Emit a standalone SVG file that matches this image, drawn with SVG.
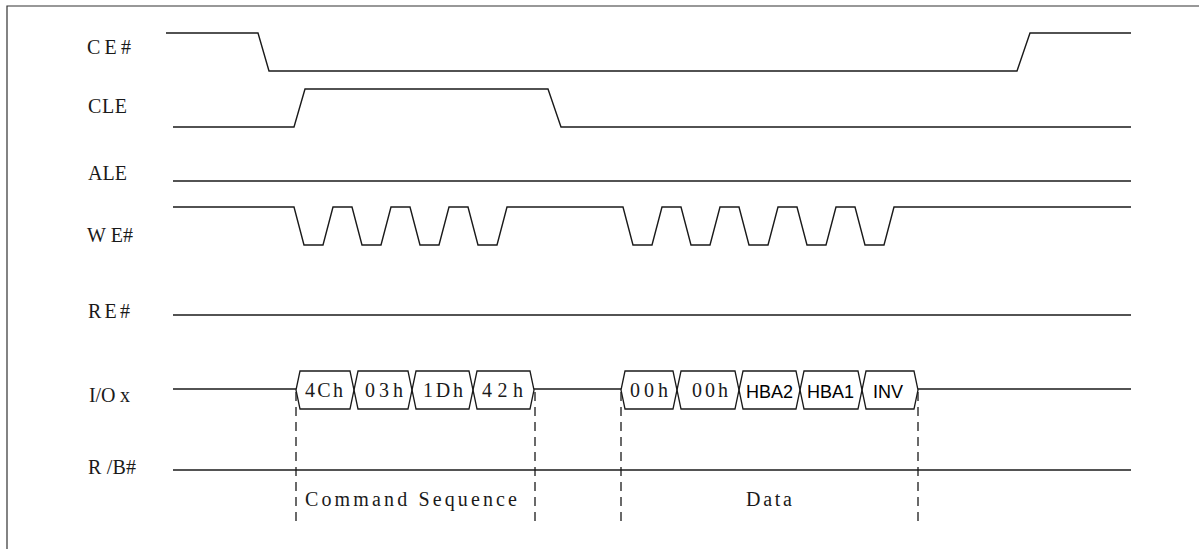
<svg xmlns="http://www.w3.org/2000/svg" width="1199" height="549" viewBox="0 0 1199 549">
<style>
.sig{fill:none;stroke:#1a1a1a;stroke-width:1.4;stroke-linejoin:miter}
.hex{fill:none;stroke:#1a1a1a;stroke-width:1.3}
.dash{fill:none;stroke:#1a1a1a;stroke-width:1.3;stroke-dasharray:9 6}
.lbl{font-family:"Liberation Serif",serif;font-size:20px;fill:#1a1a1a}
.sans{font-family:"Liberation Sans",sans-serif;font-size:18px;fill:#000}
.frame{fill:none;stroke:#333;stroke-width:1.2}
</style>
<rect width="1199" height="549" fill="#fff"/>
<path class="frame" d="M7,549 L7,6 L1199,6"/>
<g id="labels">
<text class="lbl" x="87" y="54" textLength="44" lengthAdjust="spacing">CE#</text>
<text class="lbl" x="88" y="113" textLength="39" lengthAdjust="spacing">CLE</text>
<text class="lbl" x="88" y="180" textLength="39" lengthAdjust="spacing">ALE</text>
<text class="lbl" x="87" y="242" textLength="46" lengthAdjust="spacing">W E#</text>
<text class="lbl" x="88" y="318" textLength="42" lengthAdjust="spacing">RE#</text>
<text class="lbl" x="89" y="402" textLength="41" lengthAdjust="spacing">I/O x</text>
<text class="lbl" x="88" y="474" textLength="48" lengthAdjust="spacing">R /B#</text>
</g>
<g id="connectors">
<path id="ce" class="sig" d="M166,33 L258,33 L269,71 L1017,71 L1030,33 L1131,33"/>
<path id="cle" class="sig" d="M173,127 L294,127 L305,89 L548,89 L561,127 L1131,127"/>
<path id="ale" class="sig" d="M173,181 L1131,181"/>
<path id="we" class="sig" d="M173,207 L294,207 L304,245 L323,245 L333,207 L352,207 L362,245 L381,245 L391,207 L410,207 L420,245 L439,245 L449,207 L468,207 L478,245 L497,245 L507,207 L623,207 L633,245 L652,245 L662,207 L681,207 L691,245 L710,245 L720,207 L739,207 L749,245 L768,245 L778,207 L797,207 L807,245 L826,245 L836,207 L855,207 L865,245 L884,245 L894,207 L1131,207"/>
<path id="re" class="sig" d="M173,315 L1131,315"/>
<path id="io1" class="sig" d="M173,389 L296,389"/>
<path id="io2" class="sig" d="M534,389 L621,389"/>
<path id="io3" class="sig" d="M918,389 L1131,389"/>
<path id="rb" class="sig" d="M173,470 L1131,470"/>
<path class="dash" d="M296,392 L296,527"/>
<path class="dash" d="M535,392 L535,527"/>
<path class="dash" d="M621,392 L621,527"/>
<path class="dash" d="M918,392 L918,527"/>
</g>
<g id="cmd-bus">
<path class="hex" d="M296,390 L300,371 L350,371 L354,390 L350,409 L300,409 Z"/>
<path class="hex" d="M354,390 L358,371 L408,371 L412,390 L408,409 L358,409 Z"/>
<path class="hex" d="M412,390 L416,371 L469,371 L473,390 L469,409 L416,409 Z"/>
<path class="hex" d="M473,390 L477,371 L530,371 L534,390 L530,409 L477,409 Z"/>
<text class="lbl" x="305" y="397" textLength="38" lengthAdjust="spacing">4Ch</text>
<text class="lbl" x="365" y="397" textLength="38" lengthAdjust="spacing">03h</text>
<text class="lbl" x="423" y="397" textLength="40" lengthAdjust="spacing">1Dh</text>
<text class="lbl" x="482" y="397" textLength="41" lengthAdjust="spacing">42h</text>
</g>
<g id="data-bus">
<path class="hex" d="M621,390 L625,371 L673,371 L677,390 L673,409 L625,409 Z"/>
<path class="hex" d="M677,390 L681,371 L735,371 L739,390 L735,409 L681,409 Z"/>
<path class="hex" d="M739,390 L743,371 L796,371 L800,390 L796,409 L743,409 Z"/>
<path class="hex" d="M800,390 L804,371 L858,371 L862,390 L858,409 L804,409 Z"/>
<path class="hex" d="M862,390 L866,371 L914,371 L918,390 L914,409 L866,409 Z"/>
<text class="lbl" x="630" y="397" textLength="38" lengthAdjust="spacing">00h</text>
<text class="lbl" x="692" y="397" textLength="36" lengthAdjust="spacing">00h</text>
<text class="sans" x="746" y="398">HBA2</text>
<text class="sans" x="807" y="398">HBA1</text>
<text class="sans" x="873" y="398">INV</text>
</g>
<g id="annotations">
<text class="lbl" x="305" y="506" font-size="19" textLength="212" lengthAdjust="spacing">Command Sequence</text>
<text class="lbl" x="746" y="506" font-size="19" textLength="46" lengthAdjust="spacing">Data</text>
</g>
</svg>
